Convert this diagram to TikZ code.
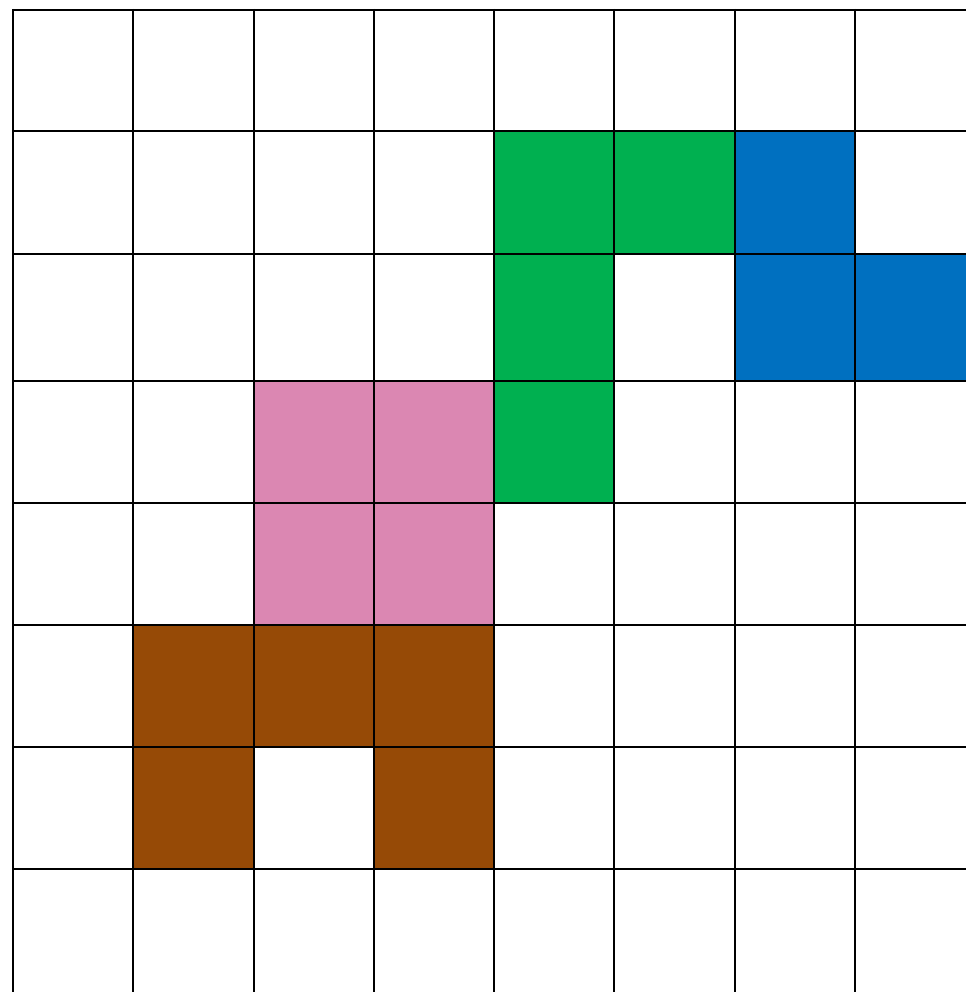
\documentclass[tikz,border=0pt]{standalone}
\definecolor{cgreen}{RGB}{0,176,80}
\definecolor{cblue}{RGB}{0,112,192}
\definecolor{cpink}{RGB}{219,135,178}
\definecolor{cbrown}{RGB}{150,74,6}
\tikzset{gridline/.style={line width=2pt,black}}
\begin{document}
\begin{tikzpicture}[x=1pt,y=-1pt]
\useasboundingbox[fill=white] (0,0) rectangle (966,992);
\def\xs{{13,133,254,374,494,614,735,855,966}}
\def\ys{{10,131,254,381,503,625,747,869,992}}
\foreach \c/\r/\col in {4/1/cgreen,5/1/cgreen,6/1/cblue,4/2/cgreen,6/2/cblue,7/2/cblue,2/3/cpink,3/3/cpink,4/3/cgreen,2/4/cpink,3/4/cpink,1/5/cbrown,2/5/cbrown,3/5/cbrown,1/6/cbrown,3/6/cbrown}{
  \pgfmathsetmacro{\xa}{\xs[\c]}
  \pgfmathsetmacro{\xb}{\xs[\c+1]}
  \pgfmathsetmacro{\ya}{\ys[\r]}
  \pgfmathsetmacro{\yb}{\ys[\r+1]}
  \fill[\col] (\xa,\ya) rectangle (\xb,\yb);
}
\foreach \x in {13,133,254,374,494,614,735,855}{
  \draw[gridline] (\x,9) -- (\x,992);
}
\foreach \y in {10,131,254,381,503,625,747,869}{
  \draw[gridline] (12,\y) -- (966,\y);
}
\end{tikzpicture}
\end{document}
